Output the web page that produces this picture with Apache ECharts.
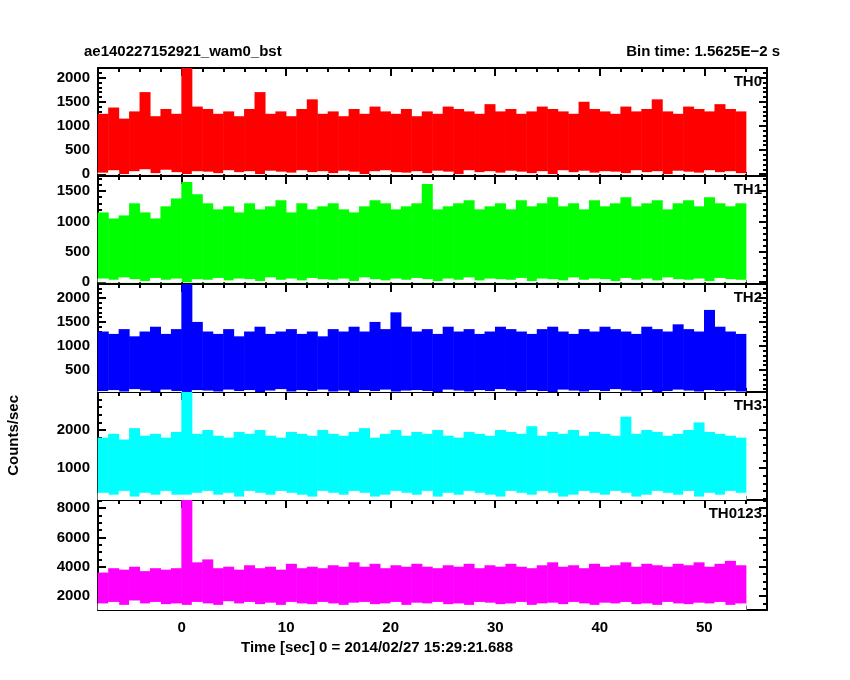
<!DOCTYPE html>
<html>
<head>
<meta charset="utf-8">
<script src="https://cdn.jsdelivr.net/npm/echarts@6/dist/echarts.min.js"></script>
<style>html,body{margin:0;background:#fff}#c{width:850px;height:680px}</style>
</head>
<body>
<div id="c"></div>
<script>
// bin centres, 1 s bins
var times = [];
for (var t = -7.5; t <= 54.5; t += 1) times.push(t);

var names = ['TH0', 'TH1', 'TH2', 'TH3', 'TH0123'];
var colors = ['#ff0000', '#00ff00', '#0000ff', '#00ffff', '#ff00ff'];

// upper / lower envelope of each bin
var hi0 = [1250,1380,1150,1300,1700,1200,1350,1250,2200,1400, 1350,1250,1300,1200,1350,1700,1250,1300,1200,1350, 1550,1250,1300,1200,1350,1250,1400,1300,1250,1350, 1200,1300,1250,1400,1350,1300,1250,1450,1300,1350, 1250,1300,1400,1350,1300,1250,1500,1350,1300,1250, 1400,1300,1350,1550,1300,1250,1400,1350,1300,1450,1350,1300];
var lo0 = [30,80,0,60,100,20,90,40,0,60, 50,20,80,40,60,0,70,50,30,80, 40,60,20,70,50,0,60,80,40,30, 60,20,70,50,0,80,40,60,30,70, 50,20,60,0,80,40,70,30,60,50, 20,80,40,60,0,70,50,30,80,40,60,20];
var hi1 = [1150,1050,1100,1300,1150,1050,1250,1380,1650,1450, 1300,1200,1250,1150,1300,1200,1250,1350,1150,1300, 1200,1250,1300,1200,1150,1250,1350,1300,1200,1250, 1300,1620,1200,1250,1300,1350,1200,1250,1300,1200, 1350,1250,1300,1400,1250,1300,1200,1350,1250,1300, 1400,1250,1300,1350,1200,1300,1350,1250,1400,1300,1250,1300];
var lo1 = [60,40,80,50,20,70,40,60,0,50, 40,70,30,60,50,20,80,40,60,30, 70,50,40,60,20,80,50,30,60,40, 70,50,20,60,40,80,30,60,50,40, 70,20,60,50,30,80,40,60,50,20, 70,40,60,30,80,50,40,60,20,70,50,40];
var hi2 = [1300,1250,1350,1200,1300,1400,1250,1350,2290,1500, 1300,1250,1350,1200,1300,1400,1250,1300,1350,1250, 1300,1200,1350,1300,1400,1300,1500,1350,1700,1400, 1300,1350,1250,1400,1300,1350,1250,1300,1400,1350, 1300,1250,1350,1400,1300,1250,1350,1300,1400,1350, 1300,1250,1400,1350,1300,1450,1350,1300,1750,1400,1300,1250];
var lo2 = [60,80,50,100,70,40,90,60,40,80, 70,50,90,60,80,40,70,100,50,80, 60,90,50,70,40,80,60,90,50,70, 80,60,40,90,70,50,80,60,100,70, 50,80,60,40,90,70,50,80,60,100, 70,50,80,40,60,90,70,50,80,60,70,50];
var hi3 = [1800,1900,1750,2050,1850,1900,1800,1950,3000,1900, 2000,1850,1800,1950,1900,2000,1850,1800,1950,1900, 1850,2000,1900,1850,1950,2050,1800,1900,2000,1850, 1950,1900,2000,1850,1800,1950,1900,1850,2000,1950, 1900,2100,1850,1950,1900,2000,1850,1950,1900,1850, 2350,1900,2000,1950,1850,1900,2000,2200,1950,1900,1850,1800];
var lo3 = [350,300,400,250,350,300,400,300,300,350, 400,300,350,250,400,350,300,400,350,300, 250,400,350,300,400,350,250,300,400,350, 300,400,250,350,300,400,350,300,250,400, 350,300,400,350,250,300,400,350,300,400, 350,250,300,400,350,300,400,250,350,300,400,350];
var hi4 = [3600,3900,3800,4000,3700,3900,3800,3900,8550,4300, 4500,3900,4000,3800,4100,3900,4000,3800,4200,3900, 4000,3900,4100,4000,4300,4000,4200,3900,4100,4000, 4200,4000,3900,4100,4000,4200,3900,4100,4000,4200, 4000,3900,4100,4300,4000,4100,3900,4200,4000,4100, 4300,4000,4200,4100,4000,4200,4100,4300,4000,4200,4400,4100];
var lo4 = [1500,1600,1400,1700,1500,1600,1450,1500,1400,1600, 1500,1400,1650,1500,1600,1450,1550,1400,1600,1500, 1450,1600,1500,1400,1550,1600,1450,1500,1600,1400, 1550,1500,1600,1450,1500,1400,1600,1550,1450,1500, 1600,1400,1500,1550,1450,1600,1500,1400,1550,1500, 1600,1450,1500,1400,1600,1500,1450,1550,1500,1600,1400,1500];

var his = [hi0, hi1, hi2, hi3, hi4];
var los = [lo0, lo1, lo2, lo3, lo4];

// axis ranges and tick labels per panel
var yMin = [-40, -30, 40, 160, 1050];
var yMax = [2200, 1750, 2290, 3000, 8550];
var yTicks = [[0,500,1000,1500,2000], [0,500,1000,1500], [500,1000,1500,2000], [1000,2000], [2000,4000,6000,8000]];
var yMinor = [
  [100,200,300,400,600,700,800,900,1100,1200,1300,1400,1600,1700,1800,1900,2100],
  [100,200,300,400,600,700,800,900,1100,1200,1300,1400,1600,1700],
  [100,200,300,400,600,700,800,900,1100,1200,1300,1400,1600,1700,1800,1900,2100,2200],
  [200,400,600,800,1200,1400,1600,1800,2200,2400,2600,2800],
  [1500,2500,3000,3500,4500,5000,5500,6500,7000,7500,8500]
];
var xTicks = [0, 10, 20, 30, 40, 50];
var xMinor = [-8,-6,-4,-2,2,4,6,8,12,14,16,18,22,24,26,28,32,34,36,38,42,44,46,48,52,54,56];

var font = 'Liberation Sans';
var tops = [68, 176, 284, 392, 500];
var heights = [108, 108, 108, 108, 110];
var plain = function (v) { return String(v); };

var grid = [], xAxis = [], yAxis = [], series = [], graphic = [];
for (var i = 0; i < 5; i++) {
    grid.push({ left: 98, width: 669, top: tops[i], height: heights[i] });
    var last = (i == 4);
    // x axes: bottom major, top major, bottom minor, top minor
    var xa = [
        { pos: 'bottom', vals: xTicks, len: 8, lab: last, line: true },
        { pos: 'top', vals: xTicks, len: 8, lab: false, line: true },
        { pos: 'bottom', vals: xMinor, len: 4, lab: false, line: false },
        { pos: 'top', vals: xMinor, len: 4, lab: false, line: false }
    ];
    xa.forEach(function (a) {
        xAxis.push({
            type: 'value', gridIndex: i, position: a.pos, min: -8, max: 56,
            axisLine: { show: a.line, onZero: false, lineStyle: { color: '#000', width: 2 } },
            axisTick: { show: true, inside: true, length: a.len, customValues: a.vals, lineStyle: { color: '#000', width: 2 } },
            axisLabel: { show: a.lab, customValues: a.vals, formatter: plain, color: '#000', fontFamily: font, fontWeight: 'bold', fontSize: 15, margin: 10 },
            splitLine: { show: false }
        });
    });
    var ya = [
        { pos: 'left', vals: yTicks[i], len: 8, lab: true, line: true },
        { pos: 'right', vals: yTicks[i], len: 8, lab: false, line: true },
        { pos: 'left', vals: yMinor[i], len: 4, lab: false, line: false },
        { pos: 'right', vals: yMinor[i], len: 4, lab: false, line: false }
    ];
    ya.forEach(function (a) {
        yAxis.push({
            type: 'value', gridIndex: i, position: a.pos, min: yMin[i], max: yMax[i],
            axisLine: { show: a.line, onZero: false, lineStyle: { color: '#000', width: 2 } },
            axisTick: { show: true, inside: true, length: a.len, customValues: a.vals, lineStyle: { color: '#000', width: 2 } },
            axisLabel: { show: a.lab, customValues: a.vals, formatter: plain, color: '#000', fontFamily: font, fontWeight: 'bold', fontSize: 15, margin: 8 },
            splitLine: { show: false }
        });
    });
    var upper = [], lower = [];
    for (var j = 0; j < times.length; j++) {
        upper.push([times[j], his[i][j]]);
        lower.push([times[j], los[i][j]]);
    }
    // coloured bar up to the bin maximum, white bar masks below the bin minimum
    series.push({
        type: 'bar', xAxisIndex: i * 4, yAxisIndex: i * 4, data: upper,
        barWidth: 11, barGap: '-100%', itemStyle: { color: colors[i] }, silent: true
    });
    series.push({
        type: 'bar', xAxisIndex: i * 4, yAxisIndex: i * 4, data: lower,
        barWidth: 11, barGap: '-100%', itemStyle: { color: '#fff' }, silent: true
    });
    graphic.push({
        type: 'text', right: 88, top: tops[i] + 6,
        style: { text: names[i], fill: '#000', font: 'bold 15px ' + font, textAlign: 'right' }
    });
}

graphic.push({ type: 'text', left: 84, top: 44, style: { text: 'ae140227152921_wam0_bst', fill: '#000', font: 'bold 15px ' + font } });
graphic.push({ type: 'text', right: 70, top: 44, style: { text: 'Bin time: 1.5625E\u22122 s', fill: '#000', font: 'bold 15px ' + font } });
graphic.push({ type: 'text', left: 6, top: 395, rotation: Math.PI / 2, style: { text: 'Counts/sec', fill: '#000', font: 'bold 15px ' + font } });
graphic.push({ type: 'text', left: 241, top: 640, style: { text: 'Time [sec] 0 = 2014/02/27 15:29:21.688', fill: '#000', font: 'bold 15px ' + font } });

var chart = echarts.init(document.getElementById('c'));
chart.setOption({
    backgroundColor: '#fff',
    animation: false,
    grid: grid,
    xAxis: xAxis,
    yAxis: yAxis,
    series: series,
    graphic: graphic
});
</script>
</body>
</html>
